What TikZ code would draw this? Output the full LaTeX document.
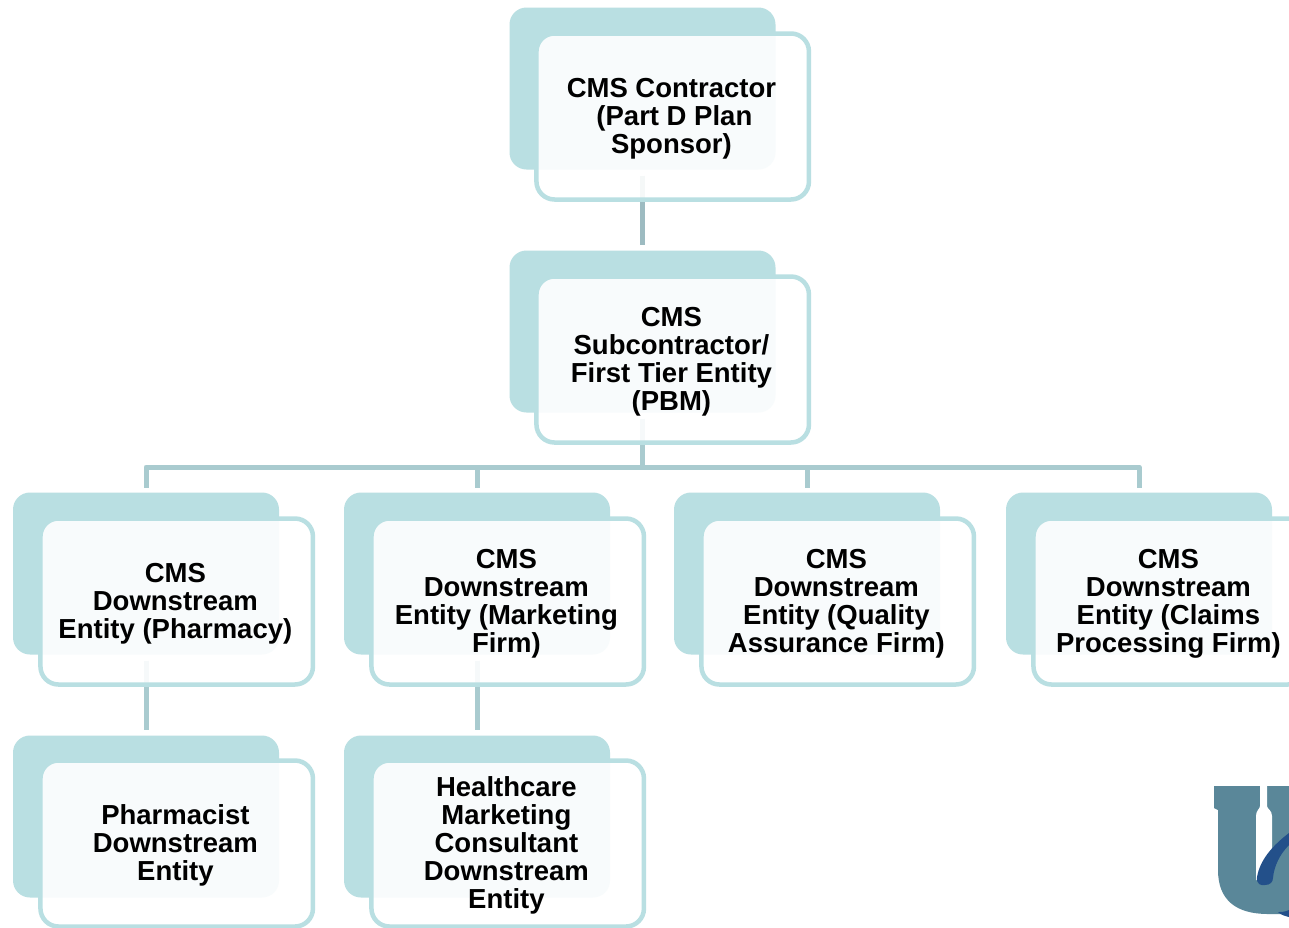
\documentclass[tikz,border=0pt]{standalone}
\usepackage{fontspec}
\setmainfont{Liberation Sans}
\definecolor{backteal}{HTML}{B9DFE2}
\definecolor{edgeteal}{HTML}{B9DFE2}
\definecolor{linkteal}{HTML}{A9CBCF}
\definecolor{linkdark}{HTML}{9DBBC1}
\definecolor{logoteal}{HTML}{5A8799}
\definecolor{logoblue}{HTML}{23508A}
\tikzset{
  backbox/.style={rectangle,draw=none,fill=backteal,rounded corners=17pt,minimum width=266pt,minimum height=162pt,inner sep=0pt,outer sep=0pt},
  frontbox/.style={rectangle,draw=edgeteal,line width=4.5pt,fill=white,fill opacity=.9,draw opacity=1,rounded corners=18pt,minimum width=272.5pt,minimum height=166pt,inner sep=0pt,outer sep=0pt},
  boxtext/.style={inner sep=0pt,align=center,xshift=-1.3pt,yshift=-2pt,font=\fontsize{27.5}{28}\selectfont\bfseries},
  link/.style={draw=linkteal,line width=5pt}
}
\begin{document}
\begin{tikzpicture}[x=1pt,y=-1pt]
\clip (0,0) rectangle (1289,927);
\fill[white] (0,0) rectangle (1289,927);
% back panels
\node[backbox] (b1) at (642.5,88.5) {};
\node[backbox] (b2) at (642.5,331.5) {};
\node[backbox] (b3a) at (146,573.5) {};
\node[backbox] (b3b) at (477,573.5) {};
\node[backbox] (b3c) at (807,573.5) {};
\node[backbox] (b3d) at (1139,573.5) {};
\node[backbox] (b4a) at (146,816.5) {};
\node[backbox] (b4b) at (477,816.5) {};
\coordinate (bus) at (0,467);
% connectors
\draw[link,draw=linkdark,shorten <=6pt,shorten >=6pt] (b1.south) -- (b2.north);
\draw[link,shorten <=6pt,shorten >=5pt,line join=round] (b2.south) -- (b2.south |- bus) -- (b3a.north |- bus) -- (b3a.north);
\draw[link,shorten >=5pt,line join=round] (b2.south |- bus) -- (b3b.north |- bus) -- (b3b.north);
\draw[link,shorten >=5pt,line join=round] (b2.south |- bus) -- (b3c.north |- bus) -- (b3c.north);
\draw[link,shorten >=5pt,line join=round] (b2.south |- bus) -- (b3d.north |- bus) -- (b3d.north);
\draw[link,shorten <=6pt,shorten >=6pt] (b3a.south) -- (b4a.north);
\draw[link,shorten <=6pt,shorten >=6pt] (b3b.south) -- (b4b.north);
% front panels
\node[frontbox] (f1) at (672.7,116.5) {};
\node[frontbox] (f2) at (672.7,359.5) {};
\node[frontbox] (f3a) at (176.7,601.5) {};
\node[frontbox] (f3b) at (507.7,601.5) {};
\node[frontbox] (f3c) at (837.7,601.5) {};
\node[frontbox] (f3d) at (1169.7,601.5) {};
\node[frontbox] (f4a) at (176.7,843.5) {};
\node[frontbox] (f4b) at (507.7,843.5) {};
% texts
\node[boxtext] (t1) at (f1.center) {CMS Contractor\\\hspace{6pt}(Part D Plan\\Sponsor)};
\node[boxtext] (t2) at (f2.center) {CMS\\Subcontractor/\\First Tier Entity\\(PBM)};
\node[boxtext] (t3a) at (f3a.center) {CMS\\Downstream\\Entity (Pharmacy)};
\node[boxtext] (t3b) at (f3b.center) {CMS\\Downstream\\Entity (Marketing\\Firm)};
\node[boxtext] (t3c) at (f3c.center) {CMS\\Downstream\\Entity (Quality\\Assurance Firm)};
\node[boxtext] (t3d) at (f3d.center) {CMS\\Downstream\\Entity (Claims\\Processing Firm)};
\node[boxtext] (t4a) at (f4a.center) {Pharmacist\\Downstream\\Entity};
\node[boxtext] (t4b) at (f4b.center) {Healthcare\\Marketing\\Consultant\\Downstream\\Entity};
% logo
\fill[logoteal] (1214,786) -- (1289,786) -- (1289,914) -- (1268,914)
  .. controls (1236,914) and (1218,900) .. (1218,870) -- (1218,810) -- (1214,808) -- cycle;
\fill[white] (1260,786) -- (1267,786) -- (1267,806) .. controls (1267,809) and (1272,810) .. (1272,816)
  -- (1272,880) -- (1256,880) -- (1256,816) .. controls (1256,810) and (1260,809) .. (1260,806) -- cycle;
\fill[logoblue] (1289,833) .. controls (1272,846) and (1260,860) .. (1257,877)
  .. controls (1256,884) and (1261,886) .. (1265,885) .. controls (1270,885) and (1273,882) .. (1273,878)
  .. controls (1274,866) and (1280,854) .. (1289,845) -- cycle;
\fill[logoblue] (1278,912) .. controls (1281,912) and (1285,912) .. (1289,910) -- (1289,917) .. controls (1285,916) and (1281,915) .. (1278,912) -- cycle;
\end{tikzpicture}
\end{document}
